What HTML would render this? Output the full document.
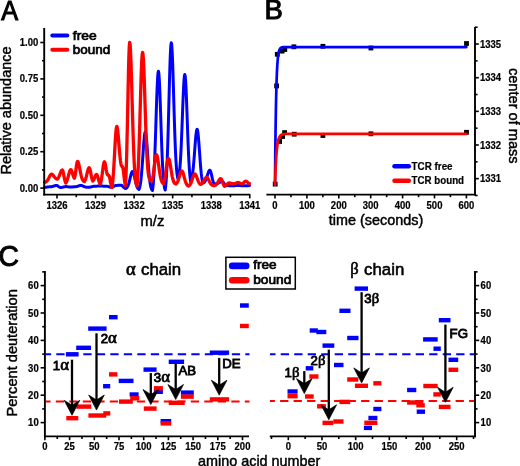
<!DOCTYPE html>
<html><head><meta charset="utf-8"><style>
html,body{margin:0;padding:0;background:#fff;}
svg{display:block;filter:blur(0.35px);}
text{font-family:"Liberation Sans",sans-serif;fill:#000;}
</style></head><body>
<svg width="520" height="466" viewBox="0 0 520 466">
<rect width="520" height="466" fill="#fff"/>
<text x="0.00" y="0.00" font-size="27.5" font-weight="normal" text-anchor="start" stroke="#000" stroke-width="1.1" transform="translate(1.20,20.30) scale(0.92,1)" >A</text>
<polyline points="44.50,187.30 44.92,187.28 45.35,187.26 45.77,187.23 46.19,187.19 46.62,187.14 47.04,187.09 47.46,187.03 47.88,186.97 48.31,186.92 48.73,186.87 49.15,186.83 49.58,186.81 50.00,186.80 50.41,186.78 50.81,186.75 51.22,186.71 51.62,186.65 52.03,186.58 52.44,186.49 52.84,186.39 53.25,186.26 53.66,186.12 54.06,185.98 54.47,185.83 54.88,185.69 55.28,185.57 55.69,185.48 56.09,185.42 56.50,185.40 56.90,185.46 57.30,185.61 57.70,185.85 58.10,186.14 58.50,186.45 58.90,186.74 59.30,187.00 59.70,187.22 60.10,187.38 60.50,187.50 60.92,187.47 61.35,187.42 61.77,187.37 62.19,187.29 62.62,187.21 63.04,187.12 63.46,187.02 63.88,186.91 64.31,186.81 64.73,186.73 65.15,186.66 65.58,186.61 66.00,186.60 66.40,186.61 66.80,186.64 67.20,186.69 67.60,186.74 68.00,186.80 68.40,186.86 68.80,186.90 69.20,186.95 69.60,186.98 70.00,187.00 70.42,186.99 70.83,186.98 71.25,186.96 71.67,186.94 72.08,186.92 72.50,186.90 72.92,186.88 73.33,186.85 73.75,186.83 74.17,186.81 74.58,186.80 75.00,186.80 75.41,186.76 75.83,186.71 76.24,186.64 76.66,186.55 77.07,186.44 77.49,186.31 77.90,186.17 78.31,186.01 78.73,185.86 79.14,185.71 79.56,185.59 79.97,185.49 80.39,185.42 80.80,185.40 81.22,185.43 81.64,185.51 82.06,185.65 82.47,185.82 82.89,186.01 83.31,186.22 83.73,186.42 84.15,186.61 84.57,186.77 84.99,186.92 85.41,187.03 85.83,187.12 86.24,187.19 86.66,187.24 87.08,187.28 87.50,187.30 87.92,187.29 88.34,187.27 88.76,187.24 89.17,187.21 89.59,187.16 90.01,187.10 90.43,187.02 90.85,186.94 91.27,186.84 91.69,186.73 92.11,186.62 92.53,186.52 92.94,186.43 93.36,186.36 93.78,186.32 94.20,186.30 94.61,186.29 95.03,186.27 95.44,186.25 95.86,186.23 96.27,186.20 96.69,186.16 97.10,186.12 97.51,186.08 97.93,186.03 98.34,185.99 98.76,185.95 99.17,185.92 99.59,185.91 100.00,185.90 100.42,185.91 100.84,185.92 101.26,185.95 101.67,185.99 102.09,186.03 102.51,186.07 102.93,186.11 103.35,186.15 103.77,186.19 104.19,186.22 104.61,186.24 105.03,186.26 105.44,186.28 105.86,186.29 106.28,186.30 106.70,186.30 107.14,186.32 107.57,186.38 108.01,186.48 108.45,186.60 108.88,186.73 109.32,186.86 109.75,186.99 110.19,187.09 110.63,187.18 111.06,187.25 111.50,187.30 111.94,187.20 112.37,187.07 112.81,186.91 113.25,186.70 113.68,186.47 114.12,186.22 114.55,185.97 114.99,185.74 115.43,185.56 115.86,185.44 116.30,185.40 116.73,185.39 117.15,185.38 117.58,185.36 118.01,185.34 118.44,185.31 118.86,185.29 119.29,185.26 119.72,185.24 120.15,185.22 120.57,185.20 121.00,185.20 121.41,185.27 121.82,185.48 122.23,185.80 122.64,186.19 123.05,186.63 123.45,187.06 123.86,187.46 124.27,187.82 124.68,188.11 125.09,188.33 125.50,188.50 125.91,188.35 126.32,188.12 126.74,187.78 127.15,187.31 127.56,186.67 127.97,185.84 128.38,184.79 128.79,183.51 129.21,182.02 129.62,180.36 130.03,178.59 130.44,176.81 130.85,175.12 131.26,173.64 131.68,172.49 132.09,171.75 132.50,171.50 132.91,171.76 133.31,172.52 133.72,173.72 134.12,175.26 134.53,177.03 134.94,178.90 135.34,180.77 135.75,182.53 136.16,184.11 136.56,185.48 136.97,186.62 137.38,187.53 137.78,188.24 138.19,188.76 138.59,189.14 139.00,189.40 139.42,188.34 139.84,186.83 140.26,184.75 140.68,181.98 141.10,178.45 141.52,174.11 141.94,169.00 142.36,163.25 142.78,157.07 143.20,150.79 143.62,144.81 144.04,139.55 144.46,135.43 144.88,132.80 145.30,131.90 145.72,132.82 146.15,135.48 146.57,139.65 146.99,144.97 147.42,151.01 147.84,157.33 148.26,163.53 148.69,169.28 149.11,174.37 149.54,178.67 149.96,182.15 150.38,184.86 150.81,186.89 151.23,188.36 151.65,189.38 152.08,190.06 152.50,190.50 152.92,187.35 153.34,182.99 153.76,177.19 154.19,169.77 154.61,160.63 155.03,149.86 155.45,137.69 155.87,124.62 156.29,111.31 156.71,98.61 157.14,87.45 157.56,78.70 157.98,73.12 158.40,71.20 158.83,73.08 159.25,78.55 159.68,87.12 160.10,98.04 160.53,110.43 160.95,123.38 161.38,136.07 161.80,147.83 162.22,158.21 162.65,166.96 163.07,174.04 163.50,179.53 163.92,183.64 164.35,186.59 164.77,188.63 165.20,190.00 165.61,186.87 166.01,182.52 166.42,176.67 166.83,169.08 167.23,159.59 167.64,148.15 168.05,134.91 168.45,120.22 168.86,104.65 169.27,89.02 169.67,74.25 170.08,61.38 170.49,51.35 170.89,44.98 171.30,42.80 171.72,44.90 172.14,51.01 172.56,60.60 172.98,72.85 173.39,86.80 173.81,101.45 174.23,115.88 174.65,129.34 175.07,141.31 175.49,151.48 175.91,159.78 176.32,166.29 176.74,171.21 177.16,174.79 177.58,177.30 178.00,179.00 178.40,177.88 178.80,176.25 179.20,173.93 179.60,170.74 180.00,166.52 180.40,161.10 180.80,154.39 181.20,146.37 181.60,137.17 182.00,127.04 182.40,116.37 182.80,105.72 183.20,95.71 183.60,87.00 184.00,80.25 184.40,75.97 184.80,74.50 185.21,76.17 185.63,81.04 186.04,88.69 186.46,98.49 186.87,109.67 187.29,121.45 187.70,133.10 188.11,144.01 188.53,153.76 188.94,162.11 189.36,168.95 189.77,174.36 190.19,178.48 190.60,181.50 191.01,180.73 191.41,179.63 191.82,178.10 192.22,176.05 192.63,173.39 193.04,170.06 193.44,166.05 193.85,161.42 194.26,156.27 194.66,150.83 195.07,145.36 195.47,140.19 195.88,135.69 196.29,132.19 196.69,129.96 197.10,129.20 197.51,130.04 197.93,132.49 198.34,136.34 198.76,141.26 199.17,146.88 199.59,152.81 200.00,158.66 200.41,164.15 200.83,169.05 201.24,173.25 201.66,176.69 202.07,179.41 202.49,181.48 202.90,183.00 203.31,182.87 203.71,182.69 204.12,182.42 204.52,182.05 204.93,181.55 205.34,180.90 205.74,180.10 206.15,179.12 206.55,178.00 206.96,176.75 207.36,175.43 207.77,174.11 208.18,172.86 208.58,171.77 208.99,170.92 209.39,170.38 209.80,170.20 210.21,170.51 210.62,171.40 211.03,172.77 211.44,174.47 211.85,176.33 212.25,178.20 212.66,179.94 213.07,181.45 213.48,182.70 213.89,183.68 214.30,184.40 214.71,184.32 215.12,184.21 215.53,184.07 215.94,183.89 216.36,183.70 216.77,183.51 217.18,183.35 217.59,183.24 218.00,183.20 218.40,183.09 218.80,182.93 219.20,182.72 219.60,182.48 220.00,182.20 220.40,181.90 220.80,181.63 221.20,181.40 221.60,181.25 222.00,181.20 222.40,181.31 222.80,181.64 223.20,182.12 223.60,182.72 224.00,183.34 224.40,183.94 224.80,184.48 225.20,184.92 225.60,185.26 226.00,185.50 226.40,185.50 226.80,185.52 227.20,185.54 227.60,185.56 228.00,185.59 228.40,185.62 228.80,185.65 229.20,185.68 229.60,185.71 230.00,185.74 230.40,185.76 230.80,185.77 231.20,185.78 231.60,185.79 232.00,185.80 232.40,185.79 232.80,185.78 233.20,185.76 233.60,185.74 234.00,185.71 234.40,185.68 234.80,185.65 235.20,185.61 235.60,185.56 236.00,185.52 236.40,185.48 236.80,185.45 237.20,185.42 237.60,185.41 238.00,185.40 238.40,185.41 238.80,185.42 239.20,185.45 239.60,185.48 240.00,185.52 240.40,185.56 240.80,185.61 241.20,185.65 241.60,185.68 242.00,185.71 242.40,185.74 242.80,185.76 243.20,185.78 243.60,185.79 244.00,185.80 244.42,185.79 244.85,185.78 245.27,185.77 245.69,185.75 246.12,185.74 246.54,185.71 246.96,185.69 247.38,185.67 247.81,185.65 248.23,185.63 248.65,185.61 249.08,185.60 249.50,185.60" fill="none" stroke="#0000ff" stroke-width="3.0" stroke-linejoin="round" stroke-linecap="round"/>
<polyline points="44.50,182.30 44.91,182.23 45.32,182.12 45.74,181.96 46.15,181.73 46.56,181.43 46.97,181.03 47.38,180.53 47.79,179.92 48.21,179.21 48.62,178.42 49.03,177.58 49.44,176.73 49.85,175.92 50.26,175.22 50.68,174.67 51.09,174.32 51.50,174.20 51.91,174.28 52.33,174.51 52.74,174.86 53.16,175.32 53.57,175.84 53.99,176.39 54.40,176.94 54.81,177.45 55.23,177.90 55.64,178.29 56.06,178.61 56.47,178.87 56.89,179.06 57.30,179.20 57.72,178.78 58.13,178.22 58.55,177.51 58.97,176.65 59.38,175.67 59.80,174.58 60.22,173.46 60.63,172.38 61.05,171.42 61.47,170.66 61.88,170.17 62.30,170.00 62.74,170.53 63.17,172.00 63.61,174.12 64.05,176.48 64.49,178.72 64.92,180.61 65.36,182.03 65.80,183.00 66.22,182.38 66.63,181.57 67.05,180.54 67.47,179.29 67.88,177.85 68.30,176.28 68.72,174.65 69.13,173.07 69.55,171.66 69.97,170.56 70.38,169.85 70.80,169.60 71.20,169.88 71.60,170.66 72.00,171.83 72.40,173.19 72.80,174.57 73.20,175.82 73.60,176.86 74.00,177.64 74.40,178.20 74.84,176.72 75.29,174.48 75.73,171.47 76.17,168.02 76.61,164.71 77.06,162.29 77.50,161.40 77.91,161.69 78.31,162.54 78.72,163.88 79.12,165.60 79.53,167.57 79.94,169.66 80.34,171.74 80.75,173.71 81.15,175.48 81.56,177.02 81.96,178.29 82.37,179.31 82.78,180.10 83.18,180.68 83.59,181.11 83.99,181.40 84.40,181.60 84.84,180.89 85.27,179.94 85.71,178.71 86.15,177.23 86.58,175.53 87.02,173.70 87.45,171.88 87.89,170.21 88.33,168.87 88.76,168.00 89.20,167.70 89.65,168.24 90.10,169.75 90.55,171.91 91.00,174.33 91.45,176.63 91.90,178.56 92.35,180.01 92.80,181.00 93.21,180.57 93.62,179.97 94.03,179.17 94.44,178.21 94.86,177.15 95.27,176.11 95.68,175.22 96.09,174.61 96.50,174.40 96.92,174.72 97.34,175.61 97.77,176.94 98.19,178.49 98.61,180.06 99.03,181.49 99.46,182.67 99.88,183.57 100.30,184.20 100.71,182.92 101.12,181.16 101.53,178.88 101.94,176.10 102.35,172.96 102.76,169.69 103.17,166.61 103.58,164.07 103.99,162.39 104.40,161.80 104.86,162.50 105.31,164.40 105.77,167.00 106.23,169.71 106.69,172.07 107.14,173.84 107.60,175.00 108.00,175.16 108.40,175.43 108.80,175.60 109.20,176.09 109.60,177.45 110.00,179.40 110.40,181.58 110.80,183.65 111.20,185.39 111.60,186.71 112.00,187.60 112.44,184.48 112.87,180.28 113.31,174.90 113.75,168.36 114.18,160.88 114.62,152.83 115.05,144.80 115.49,137.47 115.93,131.56 116.36,127.73 116.80,126.40 117.21,127.25 117.62,129.70 118.03,133.47 118.44,138.15 118.85,143.29 119.25,148.43 119.66,153.21 120.07,157.38 120.48,160.82 120.89,163.51 121.30,165.50 121.70,165.89 122.10,166.58 122.50,167.00 122.93,167.98 123.36,170.64 123.79,174.29 124.21,178.09 124.64,181.40 125.07,183.87 125.50,185.50 125.92,177.35 126.34,166.09 126.76,151.48 127.18,133.74 127.60,113.70 128.02,92.83 128.44,73.14 128.86,56.89 129.28,46.16 129.70,42.40 130.11,44.46 130.51,50.45 130.92,59.89 131.32,72.02 131.73,85.93 132.13,100.68 132.54,115.38 132.94,129.26 133.35,141.80 133.76,152.64 134.16,161.65 134.57,168.86 134.97,174.43 135.38,178.59 135.78,181.58 136.19,183.67 136.59,185.08 137.00,186.00 137.43,181.34 137.86,175.03 138.29,166.82 138.72,156.59 139.15,144.36 139.58,130.41 140.02,115.27 140.45,99.74 140.88,84.81 141.31,71.61 141.74,61.23 142.17,54.59 142.60,52.30 143.00,54.08 143.40,59.26 143.80,67.43 144.20,77.96 144.60,90.08 145.00,102.97 145.40,115.88 145.80,128.14 146.20,139.27 146.60,148.97 147.00,157.09 147.40,163.65 147.80,168.77 148.20,172.62 148.60,175.42 149.00,177.40 149.40,178.76 149.80,179.65 150.20,180.23 150.60,180.59 151.00,180.80 151.40,180.93 151.80,181.00 152.22,179.66 152.64,177.85 153.05,175.54 153.47,172.73 153.89,169.52 154.31,166.06 154.73,162.61 155.15,159.46 155.56,156.92 155.98,155.27 156.40,154.70 156.82,155.14 157.24,156.41 157.65,158.42 158.07,160.98 158.49,163.89 158.91,166.96 159.32,169.98 159.74,172.80 160.16,175.31 160.58,177.45 160.99,179.20 161.41,180.57 161.83,181.61 162.25,182.37 162.66,182.90 163.08,183.26 163.50,183.50 163.92,182.35 164.33,180.83 164.75,178.91 165.17,176.58 165.58,173.90 166.00,170.96 166.42,167.91 166.83,164.97 167.25,162.35 167.67,160.28 168.08,158.96 168.50,158.50 168.92,158.88 169.33,160.00 169.75,161.76 170.17,164.01 170.58,166.57 171.00,169.26 171.42,171.92 171.83,174.40 172.25,176.61 172.67,178.50 173.08,180.05 173.50,181.26 173.92,182.18 174.33,182.85 174.75,183.33 175.17,183.65 175.58,183.86 176.00,184.00 176.41,183.63 176.83,183.13 177.24,182.48 177.66,181.64 178.07,180.63 178.49,179.45 178.90,178.12 179.31,176.70 179.73,175.27 180.14,173.91 180.56,172.72 180.97,171.79 181.39,171.20 181.80,171.00 182.22,171.23 182.64,171.90 183.06,172.96 183.48,174.31 183.89,175.85 184.31,177.46 184.73,179.05 185.15,180.53 185.57,181.85 185.99,182.97 186.41,183.88 186.82,184.60 187.24,185.14 187.66,185.54 188.08,185.81 188.50,186.00 188.92,185.78 189.34,185.46 189.76,185.03 190.18,184.45 190.60,183.71 191.02,182.81 191.44,181.74 191.86,180.54 192.28,179.25 192.70,177.94 193.12,176.69 193.54,175.60 193.96,174.74 194.38,174.19 194.80,174.00 195.21,174.16 195.61,174.62 196.02,175.34 196.43,176.27 196.84,177.34 197.24,178.47 197.65,179.60 198.06,180.66 198.46,181.61 198.87,182.44 199.28,183.12 199.69,183.67 200.09,184.09 200.50,184.40 200.91,184.25 201.31,184.04 201.72,183.76 202.13,183.39 202.53,182.93 202.94,182.38 203.35,181.74 203.75,181.03 204.16,180.28 204.57,179.53 204.97,178.82 205.38,178.20 205.79,177.71 206.19,177.41 206.60,177.30 207.02,177.43 207.43,177.79 207.85,178.37 208.26,179.10 208.68,179.94 209.09,180.82 209.51,181.69 209.93,182.51 210.34,183.24 210.76,183.86 211.17,184.36 211.59,184.77 212.01,185.07 212.42,185.29 212.84,185.45 213.25,185.56 213.67,185.63 214.08,185.67 214.50,185.70 214.91,185.56 215.33,185.36 215.74,185.09 216.15,184.74 216.57,184.29 216.98,183.75 217.39,183.11 217.81,182.40 218.22,181.65 218.63,180.88 219.05,180.16 219.46,179.52 219.87,179.02 220.29,178.71 220.70,178.60 221.13,178.85 221.57,179.55 222.00,180.59 222.43,181.81 222.87,183.05 223.30,184.17 223.73,185.10 224.17,185.80 224.60,186.30 225.00,186.13 225.40,185.91 225.80,185.62 226.20,185.26 226.60,184.86 227.00,184.43 227.40,183.99 227.80,183.60 228.20,183.28 228.60,183.07 229.00,183.00 229.42,183.01 229.83,183.06 230.25,183.12 230.67,183.21 231.08,183.30 231.50,183.40 231.92,183.49 232.33,183.58 232.75,183.65 233.17,183.71 233.58,183.76 234.00,183.80 234.40,183.73 234.80,183.62 235.20,183.49 235.60,183.33 236.00,183.15 236.40,182.96 236.80,182.78 237.20,182.63 237.60,182.53 238.00,182.50 238.40,182.53 238.80,182.63 239.20,182.78 239.60,182.96 240.00,183.15 240.40,183.33 240.80,183.49 241.20,183.62 241.60,183.73 242.00,183.80 242.42,183.63 242.84,183.39 243.27,183.08 243.69,182.70 244.11,182.28 244.53,181.87 244.96,181.52 245.38,181.28 245.80,181.20 246.21,181.27 246.62,181.48 247.03,181.80 247.44,182.16 247.86,182.53 248.27,182.86 248.68,183.14 249.09,183.35 249.50,183.50" fill="none" stroke="#ff0000" stroke-width="3.3" stroke-linejoin="round" stroke-linecap="round"/>
<line x1="44.20" y1="28.00" x2="44.20" y2="195.50" stroke="#000" stroke-width="1.9" />
<line x1="43.30" y1="194.60" x2="250.30" y2="194.60" stroke="#000" stroke-width="1.9" />
<line x1="40.30" y1="188.10" x2="44.20" y2="188.10" stroke="#000" stroke-width="1.6" />
<text x="0.00" y="0.00" font-size="10.0" font-weight="bold" text-anchor="end" stroke="#000" stroke-width="0.2" transform="translate(38.30,191.60) scale(0.95,1)" >0.00</text>
<line x1="40.30" y1="151.70" x2="44.20" y2="151.70" stroke="#000" stroke-width="1.6" />
<text x="0.00" y="0.00" font-size="10.0" font-weight="bold" text-anchor="end" stroke="#000" stroke-width="0.2" transform="translate(38.30,155.20) scale(0.95,1)" >0.25</text>
<line x1="40.30" y1="115.30" x2="44.20" y2="115.30" stroke="#000" stroke-width="1.6" />
<text x="0.00" y="0.00" font-size="10.0" font-weight="bold" text-anchor="end" stroke="#000" stroke-width="0.2" transform="translate(38.30,118.80) scale(0.95,1)" >0.50</text>
<line x1="40.30" y1="78.90" x2="44.20" y2="78.90" stroke="#000" stroke-width="1.6" />
<text x="0.00" y="0.00" font-size="10.0" font-weight="bold" text-anchor="end" stroke="#000" stroke-width="0.2" transform="translate(38.30,82.40) scale(0.95,1)" >0.75</text>
<line x1="40.30" y1="42.50" x2="44.20" y2="42.50" stroke="#000" stroke-width="1.6" />
<text x="0.00" y="0.00" font-size="10.0" font-weight="bold" text-anchor="end" stroke="#000" stroke-width="0.2" transform="translate(38.30,46.00) scale(0.95,1)" >1.00</text>
<line x1="42.00" y1="169.90" x2="44.20" y2="169.90" stroke="#000" stroke-width="1.6" />
<line x1="42.00" y1="133.50" x2="44.20" y2="133.50" stroke="#000" stroke-width="1.6" />
<line x1="42.00" y1="97.10" x2="44.20" y2="97.10" stroke="#000" stroke-width="1.6" />
<line x1="42.00" y1="60.70" x2="44.20" y2="60.70" stroke="#000" stroke-width="1.6" />
<line x1="57.00" y1="194.60" x2="57.00" y2="198.40" stroke="#000" stroke-width="1.6" />
<text x="0.00" y="0.00" font-size="10.0" font-weight="bold" text-anchor="middle" stroke="#000" stroke-width="0.2" transform="translate(57.00,209.10) scale(0.95,1)" >1326</text>
<line x1="95.55" y1="194.60" x2="95.55" y2="198.40" stroke="#000" stroke-width="1.6" />
<text x="0.00" y="0.00" font-size="10.0" font-weight="bold" text-anchor="middle" stroke="#000" stroke-width="0.2" transform="translate(95.55,209.10) scale(0.95,1)" >1329</text>
<line x1="134.10" y1="194.60" x2="134.10" y2="198.40" stroke="#000" stroke-width="1.6" />
<text x="0.00" y="0.00" font-size="10.0" font-weight="bold" text-anchor="middle" stroke="#000" stroke-width="0.2" transform="translate(134.10,209.10) scale(0.95,1)" >1332</text>
<line x1="172.65" y1="194.60" x2="172.65" y2="198.40" stroke="#000" stroke-width="1.6" />
<text x="0.00" y="0.00" font-size="10.0" font-weight="bold" text-anchor="middle" stroke="#000" stroke-width="0.2" transform="translate(172.65,209.10) scale(0.95,1)" >1335</text>
<line x1="211.20" y1="194.60" x2="211.20" y2="198.40" stroke="#000" stroke-width="1.6" />
<text x="0.00" y="0.00" font-size="10.0" font-weight="bold" text-anchor="middle" stroke="#000" stroke-width="0.2" transform="translate(211.20,209.10) scale(0.95,1)" >1338</text>
<line x1="249.75" y1="194.60" x2="249.75" y2="198.40" stroke="#000" stroke-width="1.6" />
<text x="0.00" y="0.00" font-size="10.0" font-weight="bold" text-anchor="middle" stroke="#000" stroke-width="0.2" transform="translate(249.75,209.10) scale(0.95,1)" >1341</text>
<line x1="76.28" y1="194.60" x2="76.28" y2="197.20" stroke="#000" stroke-width="1.6" />
<line x1="114.82" y1="194.60" x2="114.82" y2="197.20" stroke="#000" stroke-width="1.6" />
<line x1="153.38" y1="194.60" x2="153.38" y2="197.20" stroke="#000" stroke-width="1.6" />
<line x1="191.92" y1="194.60" x2="191.92" y2="197.20" stroke="#000" stroke-width="1.6" />
<line x1="230.47" y1="194.60" x2="230.47" y2="197.20" stroke="#000" stroke-width="1.6" />
<text x="152.40" y="226.40" font-size="14.8" font-weight="normal" text-anchor="middle" stroke="#000" stroke-width="0.45" >m/z</text>
<text x="0.00" y="0.00" font-size="14.5" font-weight="normal" text-anchor="middle" stroke="#000" stroke-width="0.45" transform="translate(10.8,110.5) rotate(-90)">Relative abundance</text>
<line x1="52.30" y1="35.60" x2="67.30" y2="35.60" stroke="#0000ff" stroke-width="4" stroke-linecap="round"/>
<line x1="52.30" y1="49.80" x2="67.30" y2="49.80" stroke="#ff0000" stroke-width="4" stroke-linecap="round"/>
<text x="0.00" y="0.00" font-size="12.6" font-weight="normal" text-anchor="start" stroke="#000" stroke-width="0.7" transform="translate(72.80,39.60) scale(1.1,1)" >free</text>
<text x="0.00" y="0.00" font-size="12.6" font-weight="normal" text-anchor="start" stroke="#000" stroke-width="0.7" transform="translate(72.80,53.60) scale(1.07,1)" >bound</text>
<text x="264.60" y="19.00" font-size="27.5" font-weight="normal" text-anchor="start" stroke="#000" stroke-width="1.0" >B</text>
<rect x="274.20" y="83.50" width="4.8" height="4.8" fill="#000"/>
<rect x="274.90" y="51.90" width="4.8" height="4.8" fill="#000"/>
<rect x="279.70" y="48.70" width="4.8" height="4.8" fill="#000"/>
<rect x="282.40" y="47.10" width="4.8" height="4.8" fill="#000"/>
<rect x="291.50" y="44.40" width="4.8" height="4.8" fill="#000"/>
<rect x="320.50" y="43.90" width="4.8" height="4.8" fill="#000"/>
<rect x="368.50" y="45.60" width="4.8" height="4.8" fill="#000"/>
<rect x="464.10" y="41.10" width="4.8" height="4.8" fill="#000"/>
<rect x="272.80" y="181.70" width="4.8" height="4.8" fill="#000"/>
<rect x="277.20" y="139.10" width="4.8" height="4.8" fill="#000"/>
<rect x="280.20" y="134.10" width="4.8" height="4.8" fill="#000"/>
<rect x="282.20" y="130.20" width="4.8" height="4.8" fill="#000"/>
<rect x="291.80" y="131.80" width="4.8" height="4.8" fill="#000"/>
<rect x="320.50" y="133.10" width="4.8" height="4.8" fill="#000"/>
<rect x="368.50" y="131.40" width="4.8" height="4.8" fill="#000"/>
<rect x="464.10" y="129.90" width="4.8" height="4.8" fill="#000"/>
<polyline points="275.00,184.71 275.08,175.40 275.16,166.73 275.24,158.64 275.32,151.10 275.40,144.06 275.48,137.51 275.56,131.39 275.64,125.69 275.72,120.38 275.80,115.42 275.88,110.80 275.96,106.49 276.04,102.48 276.12,98.73 276.20,95.24 276.28,91.98 276.36,88.95 276.44,86.12 276.52,83.48 276.60,81.02 276.67,78.72 276.75,76.58 276.83,74.59 276.91,72.73 276.99,70.99 277.07,69.38 277.15,67.87 277.23,66.46 277.31,65.15 277.39,63.93 277.47,62.79 277.55,61.73 277.63,60.74 277.71,59.82 277.79,58.95 277.87,58.15 277.95,57.40 278.03,56.71 278.11,56.05 278.19,55.45 278.27,54.88 278.35,54.35 278.43,53.86 278.51,53.40 278.59,52.98 278.67,52.58 278.75,52.21 278.83,51.86 278.91,51.54 278.99,51.23 279.07,50.95 279.15,50.69 279.23,50.45 279.31,50.22 279.39,50.01 279.47,49.81 279.55,49.62 279.63,49.45 279.71,49.29 279.79,49.14 279.86,49.00 279.94,48.87 280.02,48.75 280.10,48.64 280.18,48.53 280.26,48.43 280.34,48.34 280.42,48.26 280.50,48.18 280.58,48.10 280.66,48.03 280.74,47.97 280.82,47.91 280.90,47.85 280.98,47.80 281.06,47.75 281.14,47.71 281.22,47.66 281.30,47.62 281.38,47.59 281.46,47.55 281.54,47.52 281.62,47.49 281.70,47.46 281.78,47.44 281.86,47.41 281.94,47.39 282.02,47.37 282.10,47.35 282.18,47.33 282.26,47.31 282.34,47.30 282.42,47.28 282.50,47.27 282.58,47.26 282.66,47.24 282.74,47.23 282.82,47.22 282.90,47.21 282.98,47.20 283.05,47.20 283.13,47.19 283.21,47.18 283.29,47.17 283.37,47.17 283.45,47.16 283.53,47.16 283.61,47.15 283.69,47.15 283.77,47.14 283.85,47.14 283.93,47.13 284.01,47.13 284.09,47.13 284.17,47.12 284.25,47.12 284.33,47.12 284.41,47.11 284.49,47.11 284.57,47.11 284.65,47.11 284.73,47.11 284.81,47.10 284.89,47.10 284.97,47.10 285.05,47.10 285.13,47.10 285.21,47.10 285.29,47.09 285.37,47.09 285.45,47.09 285.53,47.09 285.61,47.09 285.69,47.09 285.77,47.09 285.85,47.09 285.93,47.09 286.01,47.09 286.09,47.09 286.17,47.09 286.24,47.09 286.32,47.09 286.40,47.08 286.48,47.08 286.56,47.08 286.64,47.08 286.72,47.08 286.80,47.08 286.88,47.08 286.96,47.08 287.04,47.08 287.12,47.08 287.20,47.08 287.28,47.08 287.36,47.08 287.44,47.08 287.52,47.08 287.60,47.08 287.68,47.08 287.76,47.08 287.84,47.08 287.92,47.08 288.00,47.08 288.08,47.08 288.16,47.08 288.24,47.08 288.32,47.08 288.40,47.08 288.48,47.08 288.56,47.08 288.64,47.08 288.72,47.08 288.80,47.08 288.88,47.08 288.96,47.08 289.04,47.08 289.12,47.08 289.20,47.08 289.28,47.08 289.36,47.08 289.43,47.08 289.51,47.08 289.59,47.08 289.67,47.08 289.75,47.08 289.83,47.08 289.91,47.08 289.99,47.08 290.07,47.08 290.15,47.08 290.23,47.08 290.31,47.08 290.39,47.08 290.47,47.08 290.55,47.08 290.63,47.08 290.71,47.08 290.79,47.08 290.87,47.08 290.95,47.08 292.55,47.08 294.14,47.08 295.74,47.08 297.33,47.08 298.93,47.08 300.52,47.08 302.12,47.08 303.71,47.08 305.31,47.08 306.90,47.08 308.50,47.08 310.09,47.08 311.69,47.08 313.28,47.08 314.88,47.08 316.47,47.08 318.06,47.08 319.66,47.08 321.25,47.08 322.85,47.08 324.44,47.08 326.04,47.08 327.63,47.08 329.23,47.08 330.82,47.08 332.42,47.08 334.01,47.08 335.61,47.08 337.20,47.08 338.80,47.08 340.39,47.08 341.99,47.08 343.59,47.08 345.18,47.08 346.77,47.08 348.37,47.08 349.97,47.08 351.56,47.08 353.15,47.08 354.75,47.08 356.35,47.08 357.94,47.08 359.53,47.08 361.13,47.08 362.73,47.08 364.32,47.08 365.92,47.08 367.51,47.08 369.11,47.08 370.70,47.08 372.30,47.08 373.89,47.08 375.49,47.08 377.08,47.08 378.68,47.08 380.27,47.08 381.87,47.08 383.46,47.08 385.06,47.08 386.65,47.08 388.25,47.08 389.84,47.08 391.44,47.08 393.03,47.08 394.62,47.08 396.22,47.08 397.81,47.08 399.41,47.08 401.00,47.08 402.60,47.08 404.19,47.08 405.79,47.08 407.38,47.08 408.98,47.08 410.57,47.08 412.17,47.08 413.76,47.08 415.36,47.08 416.96,47.08 418.55,47.08 420.14,47.08 421.74,47.08 423.34,47.08 424.93,47.08 426.52,47.08 428.12,47.08 429.72,47.08 431.31,47.08 432.90,47.08 434.50,47.08 436.10,47.08 437.69,47.08 439.28,47.08 440.88,47.08 442.48,47.08 444.07,47.08 445.66,47.08 447.26,47.08 448.86,47.08 450.45,47.08 452.05,47.08 453.64,47.08 455.24,47.08 456.83,47.08 458.43,47.08 460.02,47.08 461.62,47.08 463.21,47.08 464.81,47.08 466.40,47.08" fill="none" stroke="#0000ff" stroke-width="2.7" stroke-linejoin="round" stroke-linecap="round"/>
<polyline points="275.00,184.71 275.08,182.23 275.16,179.87 275.24,177.63 275.32,175.50 275.40,173.47 275.48,171.54 275.56,169.70 275.64,167.96 275.72,166.29 275.80,164.71 275.88,163.21 275.96,161.78 276.04,160.42 276.12,159.13 276.20,157.90 276.28,156.73 276.36,155.61 276.44,154.55 276.52,153.55 276.60,152.59 276.67,151.68 276.75,150.81 276.83,149.98 276.91,149.20 276.99,148.45 277.07,147.74 277.15,147.07 277.23,146.43 277.31,145.81 277.39,145.23 277.47,144.68 277.55,144.15 277.63,143.65 277.71,143.18 277.79,142.73 277.87,142.29 277.95,141.88 278.03,141.50 278.11,141.12 278.19,140.77 278.27,140.44 278.35,140.12 278.43,139.81 278.51,139.53 278.59,139.25 278.67,138.99 278.75,138.74 278.83,138.51 278.91,138.28 278.99,138.07 279.07,137.86 279.15,137.67 279.23,137.49 279.31,137.31 279.39,137.14 279.47,136.99 279.55,136.83 279.63,136.69 279.71,136.55 279.79,136.43 279.86,136.30 279.94,136.18 280.02,136.07 280.10,135.97 280.18,135.87 280.26,135.77 280.34,135.68 280.42,135.59 280.50,135.51 280.58,135.43 280.66,135.36 280.74,135.28 280.82,135.22 280.90,135.15 280.98,135.09 281.06,135.03 281.14,134.98 281.22,134.92 281.30,134.87 281.38,134.83 281.46,134.78 281.54,134.74 281.62,134.70 281.70,134.66 281.78,134.62 281.86,134.58 281.94,134.55 282.02,134.52 282.10,134.49 282.18,134.46 282.26,134.43 282.34,134.41 282.42,134.38 282.50,134.36 282.58,134.34 282.66,134.31 282.74,134.29 282.82,134.27 282.90,134.26 282.98,134.24 283.05,134.22 283.13,134.21 283.21,134.19 283.29,134.18 283.37,134.16 283.45,134.15 283.53,134.14 283.61,134.12 283.69,134.11 283.77,134.10 283.85,134.09 283.93,134.08 284.01,134.07 284.09,134.07 284.17,134.06 284.25,134.05 284.33,134.04 284.41,134.03 284.49,134.03 284.57,134.02 284.65,134.02 284.73,134.01 284.81,134.00 284.89,134.00 284.97,133.99 285.05,133.99 285.13,133.98 285.21,133.98 285.29,133.98 285.37,133.97 285.45,133.97 285.53,133.96 285.61,133.96 285.69,133.96 285.77,133.95 285.85,133.95 285.93,133.95 286.01,133.95 286.09,133.94 286.17,133.94 286.24,133.94 286.32,133.94 286.40,133.94 286.48,133.93 286.56,133.93 286.64,133.93 286.72,133.93 286.80,133.93 286.88,133.93 286.96,133.92 287.04,133.92 287.12,133.92 287.20,133.92 287.28,133.92 287.36,133.92 287.44,133.92 287.52,133.92 287.60,133.91 287.68,133.91 287.76,133.91 287.84,133.91 287.92,133.91 288.00,133.91 288.08,133.91 288.16,133.91 288.24,133.91 288.32,133.91 288.40,133.91 288.48,133.91 288.56,133.91 288.64,133.91 288.72,133.90 288.80,133.90 288.88,133.90 288.96,133.90 289.04,133.90 289.12,133.90 289.20,133.90 289.28,133.90 289.36,133.90 289.43,133.90 289.51,133.90 289.59,133.90 289.67,133.90 289.75,133.90 289.83,133.90 289.91,133.90 289.99,133.90 290.07,133.90 290.15,133.90 290.23,133.90 290.31,133.90 290.39,133.90 290.47,133.90 290.55,133.90 290.63,133.90 290.71,133.90 290.79,133.90 290.87,133.90 290.95,133.90 292.55,133.90 294.14,133.90 295.74,133.90 297.33,133.90 298.93,133.90 300.52,133.90 302.12,133.90 303.71,133.90 305.31,133.90 306.90,133.90 308.50,133.90 310.09,133.90 311.69,133.90 313.28,133.90 314.88,133.90 316.47,133.90 318.06,133.90 319.66,133.90 321.25,133.90 322.85,133.90 324.44,133.90 326.04,133.90 327.63,133.90 329.23,133.90 330.82,133.90 332.42,133.90 334.01,133.90 335.61,133.90 337.20,133.90 338.80,133.90 340.39,133.90 341.99,133.90 343.59,133.90 345.18,133.90 346.77,133.90 348.37,133.90 349.97,133.90 351.56,133.90 353.15,133.90 354.75,133.90 356.35,133.90 357.94,133.90 359.53,133.90 361.13,133.90 362.73,133.90 364.32,133.90 365.92,133.90 367.51,133.90 369.11,133.90 370.70,133.90 372.30,133.90 373.89,133.90 375.49,133.90 377.08,133.90 378.68,133.90 380.27,133.90 381.87,133.90 383.46,133.90 385.06,133.90 386.65,133.90 388.25,133.90 389.84,133.90 391.44,133.90 393.03,133.90 394.62,133.90 396.22,133.90 397.81,133.90 399.41,133.90 401.00,133.90 402.60,133.90 404.19,133.90 405.79,133.90 407.38,133.90 408.98,133.90 410.57,133.90 412.17,133.90 413.76,133.90 415.36,133.90 416.96,133.90 418.55,133.90 420.14,133.90 421.74,133.90 423.34,133.90 424.93,133.90 426.52,133.90 428.12,133.90 429.72,133.90 431.31,133.90 432.90,133.90 434.50,133.90 436.10,133.90 437.69,133.90 439.28,133.90 440.88,133.90 442.48,133.90 444.07,133.90 445.66,133.90 447.26,133.90 448.86,133.90 450.45,133.90 452.05,133.90 453.64,133.90 455.24,133.90 456.83,133.90 458.43,133.90 460.02,133.90 461.62,133.90 463.21,133.90 464.81,133.90 466.40,133.90" fill="none" stroke="#ff0000" stroke-width="2.7" stroke-linejoin="round" stroke-linecap="round"/>
<line x1="266.40" y1="194.60" x2="475.90" y2="194.60" stroke="#000" stroke-width="1.9" />
<line x1="475.00" y1="27.00" x2="475.00" y2="195.50" stroke="#000" stroke-width="1.9" />
<line x1="275.00" y1="194.60" x2="275.00" y2="198.40" stroke="#000" stroke-width="1.6" />
<text x="0.00" y="0.00" font-size="10.0" font-weight="bold" text-anchor="middle" stroke="#000" stroke-width="0.2" transform="translate(275.00,209.10) scale(0.95,1)" >0</text>
<line x1="306.90" y1="194.60" x2="306.90" y2="198.40" stroke="#000" stroke-width="1.6" />
<text x="0.00" y="0.00" font-size="10.0" font-weight="bold" text-anchor="middle" stroke="#000" stroke-width="0.2" transform="translate(306.90,209.10) scale(0.95,1)" >100</text>
<line x1="338.80" y1="194.60" x2="338.80" y2="198.40" stroke="#000" stroke-width="1.6" />
<text x="0.00" y="0.00" font-size="10.0" font-weight="bold" text-anchor="middle" stroke="#000" stroke-width="0.2" transform="translate(338.80,209.10) scale(0.95,1)" >200</text>
<line x1="370.70" y1="194.60" x2="370.70" y2="198.40" stroke="#000" stroke-width="1.6" />
<text x="0.00" y="0.00" font-size="10.0" font-weight="bold" text-anchor="middle" stroke="#000" stroke-width="0.2" transform="translate(370.70,209.10) scale(0.95,1)" >300</text>
<line x1="402.60" y1="194.60" x2="402.60" y2="198.40" stroke="#000" stroke-width="1.6" />
<text x="0.00" y="0.00" font-size="10.0" font-weight="bold" text-anchor="middle" stroke="#000" stroke-width="0.2" transform="translate(402.60,209.10) scale(0.95,1)" >400</text>
<line x1="434.50" y1="194.60" x2="434.50" y2="198.40" stroke="#000" stroke-width="1.6" />
<text x="0.00" y="0.00" font-size="10.0" font-weight="bold" text-anchor="middle" stroke="#000" stroke-width="0.2" transform="translate(434.50,209.10) scale(0.95,1)" >500</text>
<line x1="466.40" y1="194.60" x2="466.40" y2="198.40" stroke="#000" stroke-width="1.6" />
<text x="0.00" y="0.00" font-size="10.0" font-weight="bold" text-anchor="middle" stroke="#000" stroke-width="0.2" transform="translate(466.40,209.10) scale(0.95,1)" >600</text>
<line x1="290.95" y1="194.60" x2="290.95" y2="197.20" stroke="#000" stroke-width="1.6" />
<line x1="322.85" y1="194.60" x2="322.85" y2="197.20" stroke="#000" stroke-width="1.6" />
<line x1="354.75" y1="194.60" x2="354.75" y2="197.20" stroke="#000" stroke-width="1.6" />
<line x1="386.65" y1="194.60" x2="386.65" y2="197.20" stroke="#000" stroke-width="1.6" />
<line x1="418.55" y1="194.60" x2="418.55" y2="197.20" stroke="#000" stroke-width="1.6" />
<line x1="450.45" y1="194.60" x2="450.45" y2="197.20" stroke="#000" stroke-width="1.6" />
<line x1="475.00" y1="178.65" x2="478.80" y2="178.65" stroke="#000" stroke-width="1.6" />
<text x="0.00" y="0.00" font-size="10.0" font-weight="bold" text-anchor="start" stroke="#000" stroke-width="0.2" transform="translate(480.00,182.15) scale(0.95,1)" >1331</text>
<line x1="475.00" y1="145.00" x2="478.80" y2="145.00" stroke="#000" stroke-width="1.6" />
<text x="0.00" y="0.00" font-size="10.0" font-weight="bold" text-anchor="start" stroke="#000" stroke-width="0.2" transform="translate(480.00,148.50) scale(0.95,1)" >1332</text>
<line x1="475.00" y1="111.35" x2="478.80" y2="111.35" stroke="#000" stroke-width="1.6" />
<text x="0.00" y="0.00" font-size="10.0" font-weight="bold" text-anchor="start" stroke="#000" stroke-width="0.2" transform="translate(480.00,114.85) scale(0.95,1)" >1333</text>
<line x1="475.00" y1="77.70" x2="478.80" y2="77.70" stroke="#000" stroke-width="1.6" />
<text x="0.00" y="0.00" font-size="10.0" font-weight="bold" text-anchor="start" stroke="#000" stroke-width="0.2" transform="translate(480.00,81.20) scale(0.95,1)" >1334</text>
<line x1="475.00" y1="44.05" x2="478.80" y2="44.05" stroke="#000" stroke-width="1.6" />
<text x="0.00" y="0.00" font-size="10.0" font-weight="bold" text-anchor="start" stroke="#000" stroke-width="0.2" transform="translate(480.00,47.55) scale(0.95,1)" >1335</text>
<line x1="475.00" y1="195.47" x2="477.60" y2="195.47" stroke="#000" stroke-width="1.6" />
<line x1="475.00" y1="161.82" x2="477.60" y2="161.82" stroke="#000" stroke-width="1.6" />
<line x1="475.00" y1="128.18" x2="477.60" y2="128.18" stroke="#000" stroke-width="1.6" />
<line x1="475.00" y1="94.52" x2="477.60" y2="94.52" stroke="#000" stroke-width="1.6" />
<line x1="475.00" y1="60.88" x2="477.60" y2="60.88" stroke="#000" stroke-width="1.6" />
<line x1="475.00" y1="27.22" x2="477.60" y2="27.22" stroke="#000" stroke-width="1.6" />
<text x="376.00" y="225.40" font-size="14.4" font-weight="normal" text-anchor="middle" stroke="#000" stroke-width="0.45" >time (seconds)</text>
<text x="0.00" y="0.00" font-size="14.6" font-weight="normal" text-anchor="middle" stroke="#000" stroke-width="0.45" transform="translate(509.3,115.8) rotate(90)">center of mass</text>
<line x1="394.50" y1="166.30" x2="408.80" y2="166.30" stroke="#0000ff" stroke-width="4.5" stroke-linecap="round"/>
<line x1="394.50" y1="180.80" x2="408.80" y2="180.80" stroke="#ff0000" stroke-width="4.5" stroke-linecap="round"/>
<text x="0.00" y="0.00" font-size="10" font-weight="bold" text-anchor="start" stroke="#000" stroke-width="0.2" transform="translate(411.60,170.20) scale(0.985,1)" >TCR free</text>
<text x="0.00" y="0.00" font-size="10" font-weight="bold" text-anchor="start" stroke="#000" stroke-width="0.2" transform="translate(411.60,184.20) scale(0.975,1)" >TCR bound</text>
<text x="0.00" y="0.00" font-size="29.8" font-weight="normal" text-anchor="start" stroke="#000" stroke-width="1.0" transform="translate(-1.60,265.70) scale(0.95,1)" >C</text>
<line x1="45.8" y1="354.2" x2="249.5" y2="354.2" stroke="#0000ff" stroke-width="2" stroke-dasharray="8.3 5.2" stroke-dashoffset="3.0"/>
<line x1="45.8" y1="401.5" x2="249.5" y2="401.5" stroke="#ff0000" stroke-width="2" stroke-dasharray="8.3 5.2" stroke-dashoffset="3.5"/>
<line x1="270.0" y1="354.2" x2="474" y2="354.2" stroke="#0000ff" stroke-width="2" stroke-dasharray="8.3 5.2" stroke-dashoffset="2.8"/>
<line x1="270.0" y1="401.1" x2="474" y2="401.1" stroke="#ff0000" stroke-width="2" stroke-dasharray="8.3 5.2" stroke-dashoffset="3.4"/>
<rect x="65.90" y="352.10" width="12.70" height="4.4" fill="#0000ff"/>
<rect x="76.20" y="345.60" width="14.80" height="4.4" fill="#0000ff"/>
<rect x="88.20" y="326.40" width="18.40" height="4.4" fill="#0000ff"/>
<rect x="109.00" y="315.00" width="8.60" height="4.4" fill="#0000ff"/>
<rect x="103.10" y="384.00" width="7.10" height="4.4" fill="#0000ff"/>
<rect x="118.70" y="378.70" width="14.80" height="4.4" fill="#0000ff"/>
<rect x="129.60" y="392.30" width="9.00" height="4.4" fill="#0000ff"/>
<rect x="143.50" y="367.40" width="13.10" height="4.4" fill="#0000ff"/>
<rect x="153.90" y="389.60" width="9.00" height="4.4" fill="#0000ff"/>
<rect x="168.70" y="359.60" width="15.40" height="4.4" fill="#0000ff"/>
<rect x="180.90" y="390.40" width="12.90" height="4.4" fill="#0000ff"/>
<rect x="160.60" y="419.00" width="10.60" height="4.4" fill="#0000ff"/>
<rect x="209.80" y="350.50" width="19.30" height="4.4" fill="#0000ff"/>
<rect x="240.00" y="303.30" width="8.80" height="4.4" fill="#0000ff"/>
<rect x="287.50" y="389.30" width="10.10" height="4.4" fill="#0000ff"/>
<rect x="305.70" y="366.10" width="7.60" height="4.4" fill="#0000ff"/>
<rect x="309.70" y="328.30" width="8.10" height="4.4" fill="#0000ff"/>
<rect x="316.40" y="329.80" width="9.90" height="4.4" fill="#0000ff"/>
<rect x="322.50" y="343.40" width="11.80" height="4.4" fill="#0000ff"/>
<rect x="334.00" y="362.80" width="9.50" height="4.4" fill="#0000ff"/>
<rect x="339.40" y="308.60" width="11.10" height="4.4" fill="#0000ff"/>
<rect x="347.20" y="335.80" width="11.30" height="4.4" fill="#0000ff"/>
<rect x="354.60" y="286.40" width="13.40" height="4.4" fill="#0000ff"/>
<rect x="373.30" y="406.80" width="8.10" height="4.4" fill="#0000ff"/>
<rect x="368.40" y="415.80" width="9.00" height="4.4" fill="#0000ff"/>
<rect x="363.90" y="425.70" width="8.10" height="4.4" fill="#0000ff"/>
<rect x="407.10" y="387.80" width="9.20" height="4.4" fill="#0000ff"/>
<rect x="416.70" y="409.50" width="8.30" height="4.4" fill="#0000ff"/>
<rect x="423.10" y="337.20" width="14.60" height="4.4" fill="#0000ff"/>
<rect x="433.50" y="346.50" width="7.30" height="4.4" fill="#0000ff"/>
<rect x="438.80" y="318.00" width="11.70" height="4.4" fill="#0000ff"/>
<rect x="448.50" y="357.60" width="9.70" height="4.4" fill="#0000ff"/>
<rect x="66.30" y="416.00" width="12.00" height="4.4" fill="#ff0000"/>
<rect x="76.30" y="404.40" width="14.95" height="4.4" fill="#ff0000"/>
<rect x="88.40" y="413.30" width="17.80" height="4.4" fill="#ff0000"/>
<rect x="103.30" y="411.20" width="7.00" height="4.4" fill="#ff0000"/>
<rect x="109.00" y="372.20" width="8.40" height="4.4" fill="#ff0000"/>
<rect x="119.00" y="399.40" width="13.80" height="4.4" fill="#ff0000"/>
<rect x="130.20" y="396.10" width="9.10" height="4.4" fill="#ff0000"/>
<rect x="143.80" y="406.40" width="12.80" height="4.4" fill="#ff0000"/>
<rect x="153.90" y="386.10" width="9.00" height="4.4" fill="#ff0000"/>
<rect x="168.70" y="400.60" width="16.00" height="4.4" fill="#ff0000"/>
<rect x="180.90" y="394.40" width="12.90" height="4.4" fill="#ff0000"/>
<rect x="160.60" y="421.20" width="10.60" height="4.4" fill="#ff0000"/>
<rect x="209.80" y="397.20" width="19.30" height="4.4" fill="#ff0000"/>
<rect x="240.00" y="323.80" width="8.80" height="4.4" fill="#ff0000"/>
<rect x="287.50" y="394.00" width="10.10" height="4.4" fill="#ff0000"/>
<rect x="305.00" y="394.30" width="8.70" height="4.4" fill="#ff0000"/>
<rect x="309.30" y="374.30" width="9.20" height="4.4" fill="#ff0000"/>
<rect x="317.10" y="404.10" width="8.80" height="4.4" fill="#ff0000"/>
<rect x="322.50" y="420.70" width="10.80" height="4.4" fill="#ff0000"/>
<rect x="333.30" y="419.30" width="10.20" height="4.4" fill="#ff0000"/>
<rect x="339.40" y="399.70" width="10.80" height="4.4" fill="#ff0000"/>
<rect x="347.20" y="377.30" width="11.10" height="4.4" fill="#ff0000"/>
<rect x="354.90" y="383.60" width="13.10" height="4.4" fill="#ff0000"/>
<rect x="373.30" y="381.10" width="8.10" height="4.4" fill="#ff0000"/>
<rect x="364.30" y="420.60" width="13.10" height="4.4" fill="#ff0000"/>
<rect x="407.10" y="400.30" width="16.20" height="4.4" fill="#ff0000"/>
<rect x="416.30" y="403.10" width="8.50" height="4.4" fill="#ff0000"/>
<rect x="423.30" y="383.80" width="14.40" height="4.4" fill="#ff0000"/>
<rect x="433.30" y="392.20" width="7.50" height="4.4" fill="#ff0000"/>
<rect x="438.80" y="404.70" width="11.70" height="4.4" fill="#ff0000"/>
<rect x="448.50" y="367.60" width="9.70" height="4.4" fill="#ff0000"/>
<line x1="72.00" y1="359.70" x2="72.00" y2="407.30" stroke="#000" stroke-width="2.3" />
<path d="M72.00,415.30 L64.20,400.30 L72.00,405.30 L79.80,400.30 Z" fill="#000" stroke="#000" stroke-width="0.7" stroke-linejoin="round"/>
<line x1="96.50" y1="333.30" x2="96.50" y2="402.00" stroke="#000" stroke-width="2.3" />
<path d="M96.50,410.00 L88.70,395.00 L96.50,400.00 L104.30,395.00 Z" fill="#000" stroke="#000" stroke-width="0.7" stroke-linejoin="round"/>
<line x1="150.80" y1="373.10" x2="150.80" y2="396.50" stroke="#000" stroke-width="2.3" />
<path d="M150.80,404.50 L143.00,389.50 L150.80,394.50 L158.60,389.50 Z" fill="#000" stroke="#000" stroke-width="0.7" stroke-linejoin="round"/>
<line x1="175.70" y1="364.00" x2="175.70" y2="391.50" stroke="#000" stroke-width="2.3" />
<path d="M175.70,399.50 L167.90,384.50 L175.70,389.50 L183.50,384.50 Z" fill="#000" stroke="#000" stroke-width="0.7" stroke-linejoin="round"/>
<line x1="219.20" y1="357.90" x2="219.20" y2="387.20" stroke="#000" stroke-width="2.3" />
<path d="M219.20,395.20 L211.40,380.20 L219.20,385.20 L227.00,380.20 Z" fill="#000" stroke="#000" stroke-width="0.7" stroke-linejoin="round"/>
<line x1="304.30" y1="371.10" x2="304.30" y2="385.60" stroke="#000" stroke-width="2.3" />
<path d="M304.30,393.60 L296.50,378.60 L304.30,383.60 L312.10,378.60 Z" fill="#000" stroke="#000" stroke-width="0.7" stroke-linejoin="round"/>
<line x1="328.80" y1="349.60" x2="328.80" y2="411.80" stroke="#000" stroke-width="2.3" />
<path d="M328.80,419.80 L321.00,404.80 L328.80,409.80 L336.60,404.80 Z" fill="#000" stroke="#000" stroke-width="0.7" stroke-linejoin="round"/>
<line x1="361.60" y1="292.20" x2="361.60" y2="374.90" stroke="#000" stroke-width="2.3" />
<path d="M361.60,382.90 L353.80,367.90 L361.60,372.90 L369.40,367.90 Z" fill="#000" stroke="#000" stroke-width="0.7" stroke-linejoin="round"/>
<line x1="445.40" y1="324.60" x2="445.40" y2="394.30" stroke="#000" stroke-width="2.3" />
<path d="M445.40,402.30 L437.60,387.30 L445.40,392.30 L453.20,387.30 Z" fill="#000" stroke="#000" stroke-width="0.7" stroke-linejoin="round"/>
<text x="0.00" y="0.00" font-size="12.6" font-weight="normal" text-anchor="start" stroke="#000" stroke-width="0.8" transform="translate(52.80,369.80) scale(1.05,1)" >1<tspan font-family="Liberation Serif" font-size="16" stroke="#000" stroke-width="0.7">&#945;</tspan></text>
<text x="0.00" y="0.00" font-size="12.6" font-weight="normal" text-anchor="start" stroke="#000" stroke-width="0.8" transform="translate(100.70,342.50) scale(1.05,1)" >2<tspan font-family="Liberation Serif" font-size="16" stroke="#000" stroke-width="0.7">&#945;</tspan></text>
<text x="0.00" y="0.00" font-size="12.6" font-weight="normal" text-anchor="start" stroke="#000" stroke-width="0.8" transform="translate(153.80,382.40) scale(1.05,1)" >3<tspan font-family="Liberation Serif" font-size="16" stroke="#000" stroke-width="0.7">&#945;</tspan></text>
<text x="0.00" y="0.00" font-size="12.6" font-weight="normal" text-anchor="start" stroke="#000" stroke-width="0.8" transform="translate(178.40,375.30) scale(1.05,1)" >AB</text>
<text x="0.00" y="0.00" font-size="12.6" font-weight="normal" text-anchor="start" stroke="#000" stroke-width="0.8" transform="translate(222.20,368.00) scale(1.05,1)" >DE</text>
<text x="0.00" y="0.00" font-size="12.6" font-weight="normal" text-anchor="start" stroke="#000" stroke-width="0.8" transform="translate(284.60,377.00) scale(1.05,1)" >1<tspan font-family="Liberation Serif" font-size="14" stroke="#000" stroke-width="0.7">&#946;</tspan></text>
<text x="0.00" y="0.00" font-size="12.6" font-weight="normal" text-anchor="start" stroke="#000" stroke-width="0.8" transform="translate(310.60,364.80) scale(1.05,1)" >2<tspan font-family="Liberation Serif" font-size="14" stroke="#000" stroke-width="0.7">&#946;</tspan></text>
<text x="0.00" y="0.00" font-size="12.6" font-weight="normal" text-anchor="start" stroke="#000" stroke-width="0.8" transform="translate(364.30,303.00) scale(1.05,1)" >3<tspan font-family="Liberation Serif" font-size="14" stroke="#000" stroke-width="0.7">&#946;</tspan></text>
<text x="0.00" y="0.00" font-size="12.6" font-weight="normal" text-anchor="start" stroke="#000" stroke-width="0.8" transform="translate(449.60,337.50) scale(1.05,1)" >FG</text>
<line x1="44.90" y1="271.00" x2="44.90" y2="437.30" stroke="#000" stroke-width="1.9" />
<line x1="44.00" y1="436.40" x2="249.00" y2="436.40" stroke="#000" stroke-width="1.9" />
<line x1="40.60" y1="422.60" x2="44.90" y2="422.60" stroke="#000" stroke-width="1.6" />
<text x="0.00" y="0.00" font-size="10.0" font-weight="bold" text-anchor="end" stroke="#000" stroke-width="0.2" transform="translate(38.70,426.40) scale(0.95,1)" >10</text>
<line x1="40.60" y1="395.20" x2="44.90" y2="395.20" stroke="#000" stroke-width="1.6" />
<text x="0.00" y="0.00" font-size="10.0" font-weight="bold" text-anchor="end" stroke="#000" stroke-width="0.2" transform="translate(38.70,399.00) scale(0.95,1)" >20</text>
<line x1="40.60" y1="367.80" x2="44.90" y2="367.80" stroke="#000" stroke-width="1.6" />
<text x="0.00" y="0.00" font-size="10.0" font-weight="bold" text-anchor="end" stroke="#000" stroke-width="0.2" transform="translate(38.70,371.60) scale(0.95,1)" >30</text>
<line x1="40.60" y1="340.40" x2="44.90" y2="340.40" stroke="#000" stroke-width="1.6" />
<text x="0.00" y="0.00" font-size="10.0" font-weight="bold" text-anchor="end" stroke="#000" stroke-width="0.2" transform="translate(38.70,344.20) scale(0.95,1)" >40</text>
<line x1="40.60" y1="313.00" x2="44.90" y2="313.00" stroke="#000" stroke-width="1.6" />
<text x="0.00" y="0.00" font-size="10.0" font-weight="bold" text-anchor="end" stroke="#000" stroke-width="0.2" transform="translate(38.70,316.80) scale(0.95,1)" >50</text>
<line x1="40.60" y1="285.60" x2="44.90" y2="285.60" stroke="#000" stroke-width="1.6" />
<text x="0.00" y="0.00" font-size="10.0" font-weight="bold" text-anchor="end" stroke="#000" stroke-width="0.2" transform="translate(38.70,289.40) scale(0.95,1)" >60</text>
<line x1="42.20" y1="408.90" x2="44.90" y2="408.90" stroke="#000" stroke-width="1.6" />
<line x1="42.20" y1="381.50" x2="44.90" y2="381.50" stroke="#000" stroke-width="1.6" />
<line x1="42.20" y1="354.10" x2="44.90" y2="354.10" stroke="#000" stroke-width="1.6" />
<line x1="42.20" y1="326.70" x2="44.90" y2="326.70" stroke="#000" stroke-width="1.6" />
<line x1="42.20" y1="299.30" x2="44.90" y2="299.30" stroke="#000" stroke-width="1.6" />
<line x1="42.20" y1="271.90" x2="44.90" y2="271.90" stroke="#000" stroke-width="1.6" />
<line x1="44.90" y1="436.40" x2="44.90" y2="440.20" stroke="#000" stroke-width="1.6" />
<text x="0.00" y="0.00" font-size="10.0" font-weight="bold" text-anchor="middle" stroke="#000" stroke-width="0.2" transform="translate(44.90,449.80) scale(0.95,1)" >0</text>
<line x1="69.60" y1="436.40" x2="69.60" y2="440.20" stroke="#000" stroke-width="1.6" />
<text x="0.00" y="0.00" font-size="10.0" font-weight="bold" text-anchor="middle" stroke="#000" stroke-width="0.2" transform="translate(69.60,449.80) scale(0.95,1)" >25</text>
<line x1="94.30" y1="436.40" x2="94.30" y2="440.20" stroke="#000" stroke-width="1.6" />
<text x="0.00" y="0.00" font-size="10.0" font-weight="bold" text-anchor="middle" stroke="#000" stroke-width="0.2" transform="translate(94.30,449.80) scale(0.95,1)" >50</text>
<line x1="119.00" y1="436.40" x2="119.00" y2="440.20" stroke="#000" stroke-width="1.6" />
<text x="0.00" y="0.00" font-size="10.0" font-weight="bold" text-anchor="middle" stroke="#000" stroke-width="0.2" transform="translate(119.00,449.80) scale(0.95,1)" >75</text>
<line x1="143.70" y1="436.40" x2="143.70" y2="440.20" stroke="#000" stroke-width="1.6" />
<text x="0.00" y="0.00" font-size="10.0" font-weight="bold" text-anchor="middle" stroke="#000" stroke-width="0.2" transform="translate(143.70,449.80) scale(0.95,1)" >100</text>
<line x1="168.40" y1="436.40" x2="168.40" y2="440.20" stroke="#000" stroke-width="1.6" />
<text x="0.00" y="0.00" font-size="10.0" font-weight="bold" text-anchor="middle" stroke="#000" stroke-width="0.2" transform="translate(168.40,449.80) scale(0.95,1)" >125</text>
<line x1="193.10" y1="436.40" x2="193.10" y2="440.20" stroke="#000" stroke-width="1.6" />
<text x="0.00" y="0.00" font-size="10.0" font-weight="bold" text-anchor="middle" stroke="#000" stroke-width="0.2" transform="translate(193.10,449.80) scale(0.95,1)" >150</text>
<line x1="217.80" y1="436.40" x2="217.80" y2="440.20" stroke="#000" stroke-width="1.6" />
<text x="0.00" y="0.00" font-size="10.0" font-weight="bold" text-anchor="middle" stroke="#000" stroke-width="0.2" transform="translate(217.80,449.80) scale(0.95,1)" >175</text>
<line x1="242.50" y1="436.40" x2="242.50" y2="440.20" stroke="#000" stroke-width="1.6" />
<text x="0.00" y="0.00" font-size="10.0" font-weight="bold" text-anchor="middle" stroke="#000" stroke-width="0.2" transform="translate(242.50,449.80) scale(0.95,1)" >200</text>
<line x1="57.25" y1="436.40" x2="57.25" y2="439.00" stroke="#000" stroke-width="1.6" />
<line x1="81.95" y1="436.40" x2="81.95" y2="439.00" stroke="#000" stroke-width="1.6" />
<line x1="106.65" y1="436.40" x2="106.65" y2="439.00" stroke="#000" stroke-width="1.6" />
<line x1="131.35" y1="436.40" x2="131.35" y2="439.00" stroke="#000" stroke-width="1.6" />
<line x1="156.05" y1="436.40" x2="156.05" y2="439.00" stroke="#000" stroke-width="1.6" />
<line x1="180.75" y1="436.40" x2="180.75" y2="439.00" stroke="#000" stroke-width="1.6" />
<line x1="205.45" y1="436.40" x2="205.45" y2="439.00" stroke="#000" stroke-width="1.6" />
<line x1="230.15" y1="436.40" x2="230.15" y2="439.00" stroke="#000" stroke-width="1.6" />
<line x1="475.00" y1="271.00" x2="475.00" y2="437.30" stroke="#000" stroke-width="1.9" />
<line x1="269.80" y1="436.40" x2="475.90" y2="436.40" stroke="#000" stroke-width="1.9" />
<line x1="475.00" y1="422.60" x2="479.20" y2="422.60" stroke="#000" stroke-width="1.6" />
<text x="0.00" y="0.00" font-size="10.0" font-weight="bold" text-anchor="start" stroke="#000" stroke-width="0.2" transform="translate(480.60,426.40) scale(0.95,1)" >10</text>
<line x1="475.00" y1="395.20" x2="479.20" y2="395.20" stroke="#000" stroke-width="1.6" />
<text x="0.00" y="0.00" font-size="10.0" font-weight="bold" text-anchor="start" stroke="#000" stroke-width="0.2" transform="translate(480.60,399.00) scale(0.95,1)" >20</text>
<line x1="475.00" y1="367.80" x2="479.20" y2="367.80" stroke="#000" stroke-width="1.6" />
<text x="0.00" y="0.00" font-size="10.0" font-weight="bold" text-anchor="start" stroke="#000" stroke-width="0.2" transform="translate(480.60,371.60) scale(0.95,1)" >30</text>
<line x1="475.00" y1="340.40" x2="479.20" y2="340.40" stroke="#000" stroke-width="1.6" />
<text x="0.00" y="0.00" font-size="10.0" font-weight="bold" text-anchor="start" stroke="#000" stroke-width="0.2" transform="translate(480.60,344.20) scale(0.95,1)" >40</text>
<line x1="475.00" y1="313.00" x2="479.20" y2="313.00" stroke="#000" stroke-width="1.6" />
<text x="0.00" y="0.00" font-size="10.0" font-weight="bold" text-anchor="start" stroke="#000" stroke-width="0.2" transform="translate(480.60,316.80) scale(0.95,1)" >50</text>
<line x1="475.00" y1="285.60" x2="479.20" y2="285.60" stroke="#000" stroke-width="1.6" />
<text x="0.00" y="0.00" font-size="10.0" font-weight="bold" text-anchor="start" stroke="#000" stroke-width="0.2" transform="translate(480.60,289.40) scale(0.95,1)" >60</text>
<line x1="475.00" y1="408.90" x2="477.60" y2="408.90" stroke="#000" stroke-width="1.6" />
<line x1="475.00" y1="381.50" x2="477.60" y2="381.50" stroke="#000" stroke-width="1.6" />
<line x1="475.00" y1="354.10" x2="477.60" y2="354.10" stroke="#000" stroke-width="1.6" />
<line x1="475.00" y1="326.70" x2="477.60" y2="326.70" stroke="#000" stroke-width="1.6" />
<line x1="475.00" y1="299.30" x2="477.60" y2="299.30" stroke="#000" stroke-width="1.6" />
<line x1="475.00" y1="271.90" x2="477.60" y2="271.90" stroke="#000" stroke-width="1.6" />
<line x1="288.30" y1="436.40" x2="288.30" y2="440.20" stroke="#000" stroke-width="1.6" />
<text x="0.00" y="0.00" font-size="10.0" font-weight="bold" text-anchor="middle" stroke="#000" stroke-width="0.2" transform="translate(288.30,449.80) scale(0.95,1)" >0</text>
<line x1="321.98" y1="436.40" x2="321.98" y2="440.20" stroke="#000" stroke-width="1.6" />
<text x="0.00" y="0.00" font-size="10.0" font-weight="bold" text-anchor="middle" stroke="#000" stroke-width="0.2" transform="translate(321.98,449.80) scale(0.95,1)" >50</text>
<line x1="355.65" y1="436.40" x2="355.65" y2="440.20" stroke="#000" stroke-width="1.6" />
<text x="0.00" y="0.00" font-size="10.0" font-weight="bold" text-anchor="middle" stroke="#000" stroke-width="0.2" transform="translate(355.65,449.80) scale(0.95,1)" >100</text>
<line x1="389.32" y1="436.40" x2="389.32" y2="440.20" stroke="#000" stroke-width="1.6" />
<text x="0.00" y="0.00" font-size="10.0" font-weight="bold" text-anchor="middle" stroke="#000" stroke-width="0.2" transform="translate(389.32,449.80) scale(0.95,1)" >150</text>
<line x1="423.00" y1="436.40" x2="423.00" y2="440.20" stroke="#000" stroke-width="1.6" />
<text x="0.00" y="0.00" font-size="10.0" font-weight="bold" text-anchor="middle" stroke="#000" stroke-width="0.2" transform="translate(423.00,449.80) scale(0.95,1)" >200</text>
<line x1="456.68" y1="436.40" x2="456.68" y2="440.20" stroke="#000" stroke-width="1.6" />
<text x="0.00" y="0.00" font-size="10.0" font-weight="bold" text-anchor="middle" stroke="#000" stroke-width="0.2" transform="translate(456.68,449.80) scale(0.95,1)" >250</text>
<line x1="271.46" y1="436.40" x2="271.46" y2="439.00" stroke="#000" stroke-width="1.6" />
<line x1="305.14" y1="436.40" x2="305.14" y2="439.00" stroke="#000" stroke-width="1.6" />
<line x1="338.81" y1="436.40" x2="338.81" y2="439.00" stroke="#000" stroke-width="1.6" />
<line x1="372.49" y1="436.40" x2="372.49" y2="439.00" stroke="#000" stroke-width="1.6" />
<line x1="406.16" y1="436.40" x2="406.16" y2="439.00" stroke="#000" stroke-width="1.6" />
<line x1="439.84" y1="436.40" x2="439.84" y2="439.00" stroke="#000" stroke-width="1.6" />
<line x1="473.51" y1="436.40" x2="473.51" y2="439.00" stroke="#000" stroke-width="1.6" />
<text x="0.00" y="0.00" font-size="14.6" font-weight="normal" text-anchor="middle" stroke="#000" stroke-width="0.45" transform="translate(17.3,352.9) rotate(-90)">Percent deuteration</text>
<text x="259.20" y="465.80" font-size="14.4" font-weight="normal" text-anchor="middle" stroke="#000" stroke-width="0.45" >amino acid number</text>
<text x="126.00" y="274.60" font-size="16.5" font-weight="normal" text-anchor="start" ><tspan font-family="Liberation Serif" font-size="18.5" stroke="#000" stroke-width="0.7">&#945;</tspan></text>
<text x="141.00" y="274.80" font-size="16.8" font-weight="normal" text-anchor="start" stroke="#000" stroke-width="0.55" >chain</text>
<text x="350.30" y="274.20" font-size="16.5" font-weight="normal" text-anchor="start" ><tspan font-family="Liberation Serif" font-size="16.5" stroke="#000" stroke-width="0.6">&#946;</tspan></text>
<text x="364.10" y="274.50" font-size="16.8" font-weight="normal" text-anchor="start" stroke="#000" stroke-width="0.55" >chain</text>
<rect x="225.9" y="257.3" width="69.4" height="31.7" fill="#fff" stroke="#000" stroke-width="1.5"/>
<line x1="232.20" y1="265.90" x2="246.20" y2="265.90" stroke="#0000ff" stroke-width="6.6" stroke-linecap="round"/>
<line x1="232.20" y1="280.20" x2="246.20" y2="280.20" stroke="#ff0000" stroke-width="6.6" stroke-linecap="round"/>
<text x="0.00" y="0.00" font-size="12.6" font-weight="normal" text-anchor="start" stroke="#000" stroke-width="0.7" transform="translate(253.20,269.40) scale(1.08,1)" >free</text>
<text x="0.00" y="0.00" font-size="12.6" font-weight="normal" text-anchor="start" stroke="#000" stroke-width="0.7" transform="translate(253.20,284.00) scale(1.09,1)" >bound</text>
</svg>
</body></html>
